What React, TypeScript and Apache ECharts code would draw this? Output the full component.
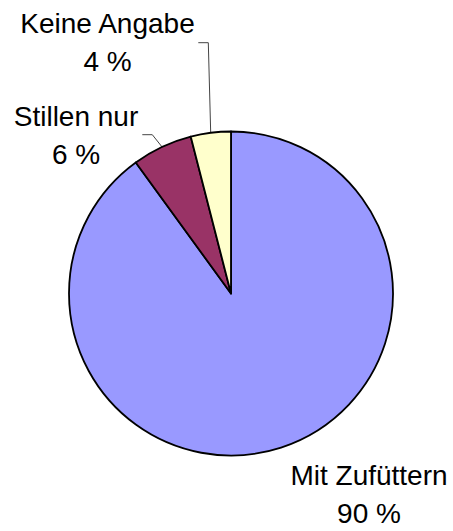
import React, { useEffect, useRef } from "react";
import * as echarts from "echarts";

const categories = ["Mit Zufüttern", "Stillen nur", "Keine Angabe"];
const values = [90, 6, 4];
const colors = ["#9999FF", "#993366", "#FFFFCC"];

// label anchor (top-center of text block) per slice
const labelPos: [number, number][] = [
  [369, 451.5],
  [76, 97],
  [107.5, 4.5],
];
// leader line bend & end points per slice (null = no line)
const linePts: ([number, number][] | null)[] = [
  null,
  [
    [152.3, 134.7],
    [142.3, 134.7],
  ],
  [
    [208.3, 42.7],
    [198.3, 42.7],
  ],
];

const FONT = "Liberation Sans, Arial, sans-serif";

export default function App() {
  const ref = useRef<HTMLDivElement>(null);
  useEffect(() => {
    document.body.style.margin = "0";
    const chart = echarts.init(ref.current!, null, { renderer: "svg" });
    chart.setOption({
      animation: false,
      backgroundColor: "#ffffff",
      series: [
        {
          type: "pie",
          center: [231, 293.5],
          radius: 162,
          startAngle: 90,
          clockwise: true,
          avoidLabelOverlap: false,
          itemStyle: { borderColor: "#000", borderWidth: 1.8 },
          label: {
            show: true,
            position: "outside",
            color: "#000",
            fontFamily: FONT,
            fontSize: 28,
            lineHeight: 38,
            align: "center",
            formatter: (p: any) =>
              p.dataIndex === 0
                ? `{t|${p.name}}\n{v|${p.value} %}`
                : `${p.name}\n${p.value} %`,
            rich: {
              t: { fontFamily: FONT, fontSize: 28, lineHeight: 48, color: "#000" },
              v: { fontFamily: FONT, fontSize: 28, lineHeight: 28, color: "#000" },
            },
          },
          labelLine: {
            show: true,
            length: 10,
            length2: 10,
            lineStyle: { color: "#444", width: 1 },
          },
          labelLayout: (params: any) => {
            const i = params.dataIndex;
            const res: any = {
              x: labelPos[i][0],
              y: labelPos[i][1],
              align: "center",
              verticalAlign: "top",
            };
            const lp = linePts[i];
            if (lp && params.labelLinePoints) {
              res.labelLinePoints = [params.labelLinePoints[0], lp[0], lp[1]];
            }
            return res;
          },
          data: categories.map((name, i) => ({
            name,
            value: values[i],
            itemStyle: { color: colors[i] },
            labelLine: { show: linePts[i] !== null },
          })),
        },
      ],
    });
    return () => chart.dispose();
  }, []);
  return <div ref={ref} style={{ width: 453, height: 531 }} />;
}
